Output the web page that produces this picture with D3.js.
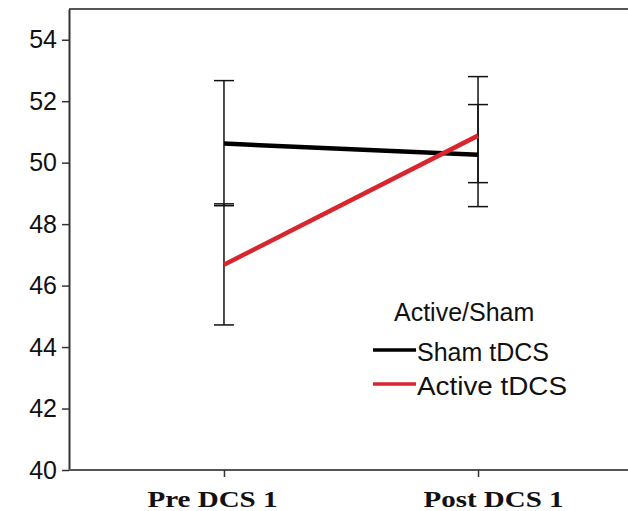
<!DOCTYPE html>
<html>
<head>
<meta charset="utf-8">
<script src="https://cdn.jsdelivr.net/npm/d3@7"></script>
<style>
  body { margin: 0; background: #fff; }
  svg { display: block; }
</style>
</head>
<body>
<div id="chart"></div>
<script>
// data
const categories = ["Pre DCS 1", "Post DCS 1"];
const shamMean = [50.62, 50.26];
const shamLow = [48.60, 48.57];
const shamHigh = [52.67, 51.89];
const activeMean = [46.68, 50.88];
const activeLow = [44.72, 49.35];
const activeHigh = [48.66, 52.80];
const yTicks = [40, 42, 44, 46, 48, 50, 52, 54];
const legendTitle = "Active/Sham";
const seriesNames = ["Sham tDCS", "Active tDCS"];

const W = 628, H = 511;
const margin = {top: 9, right: 0, bottom: 41, left: 69};

const svg = d3.select("#chart").append("svg")
    .attr("width", W)
    .attr("height", H);

const x = d3.scalePoint()
    .domain(categories)
    .range([margin.left, 633])
    .padding(0.61);

const y = d3.scaleLinear()
    .domain([40, 55])
    .range([H - margin.bottom, margin.top]);

const series = [
  {name: seriesNames[0], color: "#000", mean: shamMean, low: shamLow, high: shamHigh},
  {name: seriesNames[1], color: "#d8262e", mean: activeMean, low: activeLow, high: activeHigh}
];

// frame: top line
svg.append("line")
    .attr("x1", margin.left).attr("x2", W)
    .attr("y1", margin.top).attr("y2", margin.top)
    .attr("stroke", "#555").attr("stroke-width", 2);

// y axis
const yAxis = svg.append("g")
    .attr("transform", `translate(${margin.left},0)`)
    .call(d3.axisLeft(y).tickValues(yTicks).tickSize(7).tickPadding(5).tickSizeOuter(0));
yAxis.select(".domain").attr("stroke", "#333").attr("stroke-width", 2);
yAxis.selectAll(".tick line").attr("stroke", "#333").attr("stroke-width", 1.5);
yAxis.selectAll(".tick text")
    .attr("font-family", "Liberation Sans, Arial, sans-serif")
    .attr("font-size", 25)
    .attr("fill", "#111");

// x axis (labels sit a bit off the ticks in the original)
const labelShift = [-12, 15];
const labelWidth = [130, 140];
const xAxis = svg.append("g")
    .attr("transform", `translate(0,${H - margin.bottom})`)
    .call(d3.axisBottom(x).tickSize(7).tickPadding(13).tickSizeOuter(0));
xAxis.select(".domain").attr("d", `M${margin.left},0H${W}`).attr("stroke", "#555").attr("stroke-width", 2);
xAxis.selectAll(".tick line").attr("stroke", "#333").attr("stroke-width", 1.5);
xAxis.selectAll(".tick text")
    .attr("font-family", "Liberation Serif, Times New Roman, serif")
    .attr("font-weight", "bold")
    .attr("font-size", 24)
    .attr("fill", "#111")
    .attr("x", (d, i) => labelShift[i])
    .attr("textLength", (d, i) => labelWidth[i])
    .attr("lengthAdjust", "spacingAndGlyphs");

// error bars
const capW = 10;
series.forEach(s => {
  const g = svg.append("g");
  categories.forEach((c, i) => {
    g.append("line")
        .attr("x1", x(c)).attr("x2", x(c))
        .attr("y1", y(s.low[i])).attr("y2", y(s.high[i]))
        .attr("stroke", "#111").attr("stroke-width", 1.5);
    [s.low[i], s.high[i]].forEach(v => {
      g.append("line")
          .attr("x1", x(c) - capW).attr("x2", x(c) + capW)
          .attr("y1", y(v)).attr("y2", y(v))
          .attr("stroke", "#111").attr("stroke-width", 1.5);
    });
  });
});

// mean lines
const line = d3.line()
    .x((d, i) => x(categories[i]))
    .y(d => y(d));
series.forEach(s => {
  svg.append("path")
      .attr("d", line(s.mean))
      .attr("fill", "none")
      .attr("stroke", s.color)
      .attr("stroke-width", 4.5);
});

// legend
const legend = svg.append("g").attr("font-family", "Liberation Sans, Arial, sans-serif");
legend.append("text")
    .attr("x", 394).attr("y", 321)
    .attr("font-size", 25)
    .attr("fill", "#111")
    .text(legendTitle);
const itemWidth = [132, 150];
series.forEach((s, i) => {
  const ly = 350 + i * 34;
  legend.append("line")
      .attr("x1", 373).attr("x2", 416)
      .attr("y1", ly).attr("y2", ly)
      .attr("stroke", s.color).attr("stroke-width", 3.5);
  legend.append("text")
      .attr("x", 417).attr("y", ly + 11)
      .attr("font-size", 25)
      .attr("fill", "#111")
      .attr("textLength", itemWidth[i])
      .attr("lengthAdjust", "spacingAndGlyphs")
      .text(s.name);
});
</script>
</body>
</html>
